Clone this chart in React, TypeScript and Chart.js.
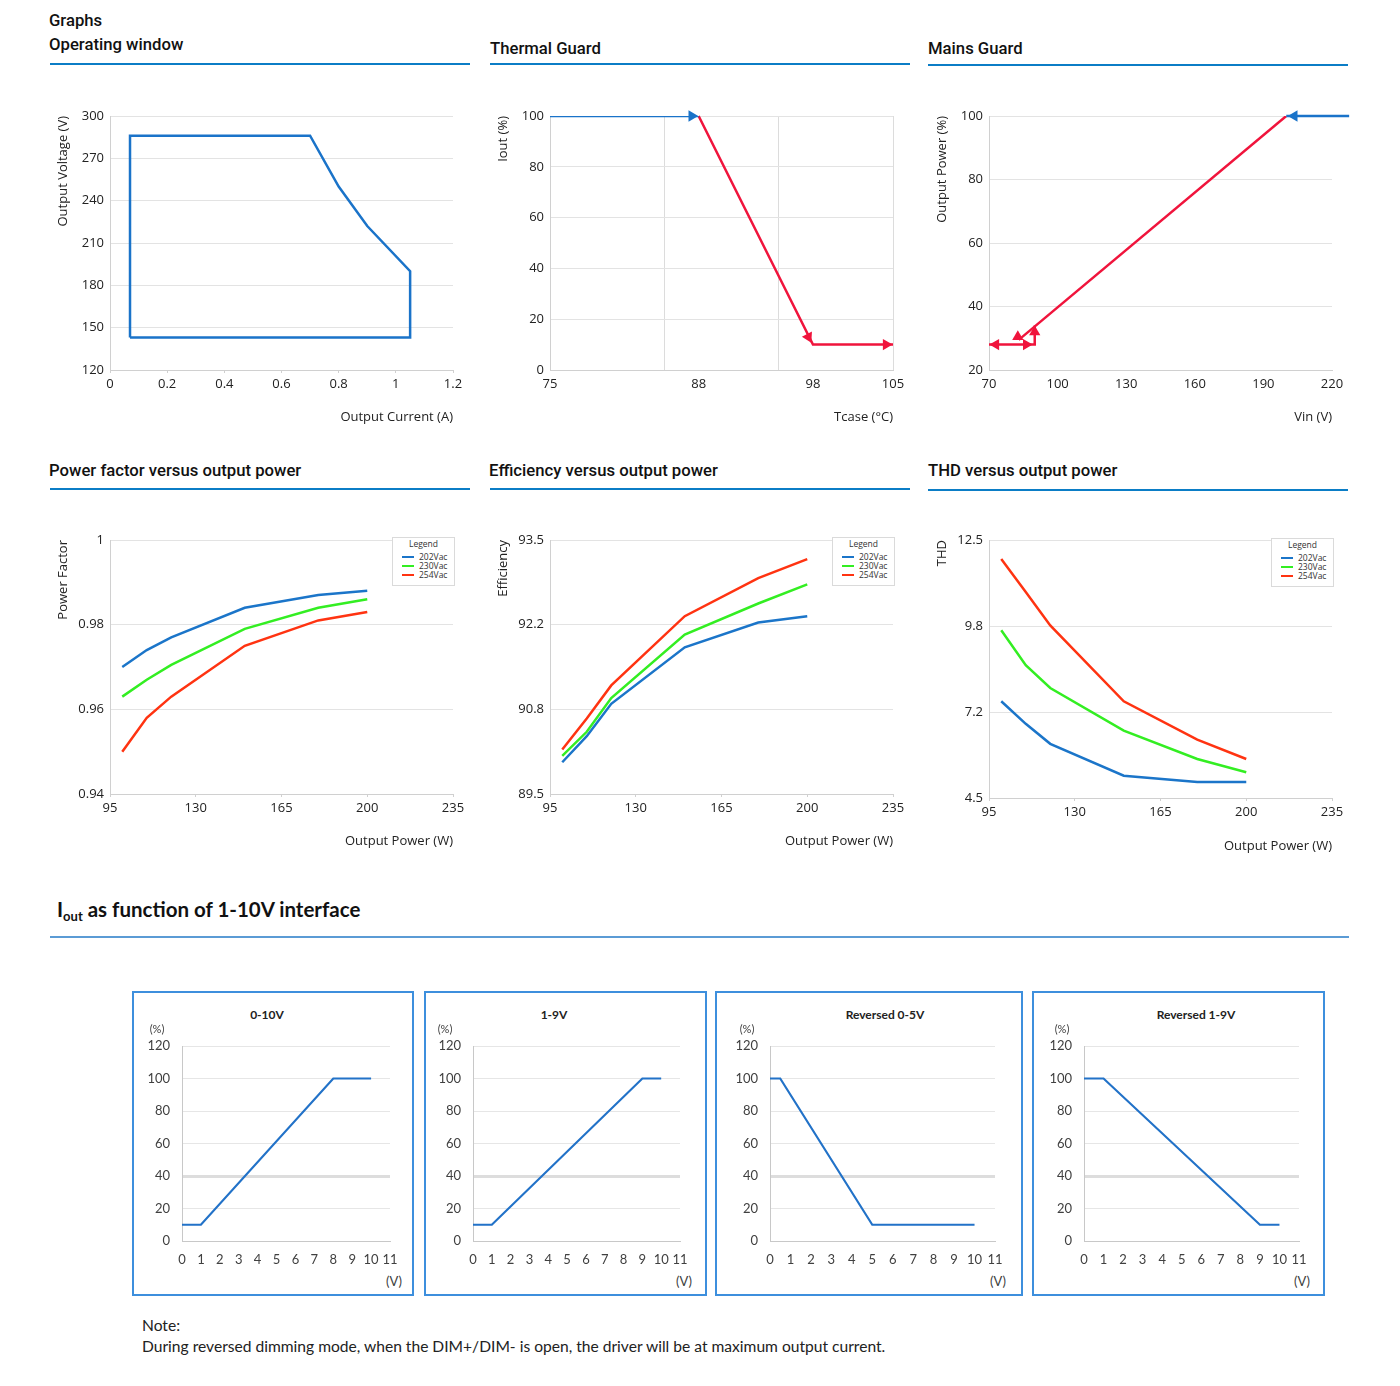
import React, { useEffect, useRef } from 'react';
import { Chart, registerables } from 'chart.js';

Chart.register(...registerables);

// ---------------- Data ----------------
// Operating window (closed polygon)
const OW_CURRENT = [0.07, 0.07, 0.7, 0.8, 0.9, 1.05, 1.05, 0.07];
const OW_VOLTAGE = [143, 286, 286, 250, 222, 190, 143, 143];

// Thermal guard
const TG_BLUE_T = [75, 88];
const TG_BLUE_I = [100, 100];
const TG_RED_T = [88, 98, 105];
const TG_RED_I = [100, 10, 10];
const TG_ARROW_T = [87.4, 97.6, 104.4];
const TG_ARROW_I = [100, 13, 10];
const TG_ARROW_ROT = [90, 153, 90];
const TG_X_TICKS = [75, 85, 88, 95, 98, 105];
const TG_X_LABELS = [75, 88, 98, 105];
const TG_X_GRID = [75, 85, 95, 105];

// Mains guard
const MG_BLUE_V = [227.5, 200];
const MG_BLUE_P = [100, 100];
const MG_DIAG_V = [200, 83];
const MG_DIAG_P = [100, 29.5];
const MG_STEP_V = [70, 90, 90];
const MG_STEP_P = [28, 28, 34];
const MG_ARROW_V = [203.5, 73, 86.3, 90, 82.6];
const MG_ARROW_P = [100, 28, 28, 32, 30.5];
const MG_ARROW_ROT = [270, 270, 90, 0, 0];

// Power factor / efficiency / THD vs output power
const SERIES_NAMES = ['202Vac', '230Vac', '254Vac'];
const LOAD_W = [100, 110, 120, 150, 180, 200];
const PF_202 = [0.97, 0.974, 0.977, 0.984, 0.987, 0.988];
const PF_230 = [0.963, 0.967, 0.9705, 0.979, 0.984, 0.986];
const PF_254 = [0.95, 0.958, 0.963, 0.975, 0.981, 0.983];
const EFF_202 = [90.0, 90.41, 90.92, 91.81, 92.2, 92.3];
const EFF_230 = [90.1, 90.48, 91.01, 92.01, 92.5, 92.8];
const EFF_254 = [90.2, 90.69, 91.21, 92.3, 92.9, 93.2];
const THD_202 = [7.5, 6.8, 6.18, 5.19, 5.0, 5.0];
const THD_230 = [9.7, 8.62, 7.91, 6.59, 5.71, 5.3];
const THD_254 = [11.91, 10.89, 9.85, 7.5, 6.31, 5.71];
const PF_Y_LABELS = ['0.94', '0.96', '0.98', '1'];
const EFF_Y_LABELS = ['89.5', '90.8', '92.2', '93.5'];
const THD_Y_LABELS = ['4.5', '7.2', '9.8', '12.5'];

// 1-10V interface
const DIM_0_10_V = [0, 1, 8, 10];
const DIM_0_10_I = [10, 10, 100, 100];
const DIM_1_9_V = [0, 1, 9, 10];
const DIM_1_9_I = [10, 10, 100, 100];
const REV_0_5_V = [0, 0.5, 5, 10];
const REV_0_5_I = [100, 100, 10, 10];
const REV_1_9_V = [0, 1, 9, 10];
const REV_1_9_I = [100, 100, 10, 10];
const DIM_TITLES = ['0-10V', '1-9V', 'Reversed 0-5V', 'Reversed 1-9V'];

// ---------------- Styles ----------------
const FONT = '"Open Sans", "Noto Sans", sans-serif';
const HEAD_FONT = 'Roboto, "Liberation Sans", Arial, sans-serif';
const CAL_FONT = 'Lato, "Open Sans", sans-serif';
const BLUE = '#1a73c9';
const RED = '#f0143c';
const S_BLUE = '#1b75c9';
const S_GREEN = '#33ee22';
const S_RED = '#ff3311';
const HEAD_LINE = '#0b7dc6';
const GRID = '#e3e3e3';
const AXIS = '#d0d0d0';

const pts = (xs: number[], ys: number[]) => xs.map((x, i) => ({ x, y: ys[i] }));
const fmt = (v: number) => String(parseFloat(Number(v).toFixed(3)));

type Plot = { l: number; t: number; r: number; b: number };

function PlotChart({ plot, yW, xH, padT, padR, config }: {
  plot: Plot; yW: number; xH: number; padT: number; padR: number; config: () => any;
}) {
  const ref = useRef<HTMLCanvasElement | null>(null);
  const w = Math.round(plot.r - plot.l + yW + padR);
  const h = Math.round(plot.b - plot.t + padT + xH);
  useEffect(() => {
    const cfg = config();
    const o = cfg.options;
    o.responsive = false;
    o.animation = false;
    o.devicePixelRatio = 1;
    o.layout = { padding: { top: padT, right: padR, left: 0, bottom: 0 } };
    o.scales.x.afterFit = (s: any) => { s.height = xH; };
    o.scales.y.afterFit = (s: any) => { s.width = yW; };
    o.plugins = { ...(o.plugins || {}), legend: { display: false }, tooltip: { enabled: false } };
    const chart = new Chart(ref.current as HTMLCanvasElement, cfg);
    return () => chart.destroy();
  }, []);
  return (
    <canvas
      ref={ref}
      width={w}
      height={h}
      style={{ position: 'absolute', left: plot.l - yW, top: plot.t - padT, width: w, height: h }}
    />
  );
}

const lineDs = (data: any[], color: string, width = 2.5, extra: any = {}) => ({
  data, borderColor: color, backgroundColor: color, borderWidth: width, showLine: true,
  pointRadius: 0, fill: false, tension: 0, borderJoinStyle: 'miter', ...extra,
});

const arrowDs = (data: any[], rot: number[], colors: string[]) => ({
  data, showLine: false, pointStyle: 'triangle', pointRadius: 6.5, pointRotation: rot,
  pointBackgroundColor: colors, pointBorderWidth: 0, pointBorderColor: colors, clip: false,
});

const tickFont = { family: FONT, size: 13 };
const titleFont = { family: FONT, size: 13 };

const xAxisBase = (min: number, max: number, step: number, title: string, extra: any = {}) => ({
  type: 'linear', min, max,
  ticks: { stepSize: step, font: tickFont, color: '#222', padding: 3, autoSkip: false, maxRotation: 0, callback: fmt },
  grid: { display: true, drawOnChartArea: false, drawTicks: true, tickLength: 3, color: AXIS },
  border: { display: true, color: AXIS },
  title: { display: true, text: title, align: 'end', font: titleFont, color: '#222', padding: 0 },
  ...extra,
});

const yAxisBase = (min: number, max: number, step: number, title: string, extra: any = {}) => ({
  type: 'linear', min, max,
  ticks: { stepSize: step, font: tickFont, color: '#222', padding: 6, callback: fmt },
  grid: { color: GRID, drawTicks: false },
  border: { display: true, color: AXIS },
  title: { display: true, text: title, align: 'end', font: titleFont, color: '#222', padding: 0 },
  ...extra,
});

const fixedTicks = (labels: string[]) => ({
  afterBuildTicks: (s: any) => {
    const n = labels.length;
    s.ticks = labels.map((_, i) => ({ value: s.min + (i * (s.max - s.min)) / (n - 1) }));
  },
});

function Text({ x, y, children, size = 16.7, family = HEAD_FONT, weight = 500, align = 'left', color = '#111' }: any) {
  const lh = Math.round(size * 1.3);
  const tx = align === 'center' ? 'translateX(-50%)' : align === 'right' ? 'translateX(-100%)' : 'none';
  return (
    <div style={{
      position: 'absolute', left: x, top: y - lh / 2, lineHeight: lh + 'px', fontSize: size,
      fontFamily: family, fontWeight: weight, color, whiteSpace: 'nowrap', transform: tx,
    }}>{children}</div>
  );
}

function HLine({ x1, x2, y, color = HEAD_LINE, h = 2 }: any) {
  return <div style={{ position: 'absolute', left: x1, top: y, width: x2 - x1, height: h, background: color }} />;
}

function LegendBox({ left, top }: { left: number; top: number }) {
  const colors = [S_BLUE, S_GREEN, S_RED];
  return (
    <div style={{
      position: 'absolute', left, top, width: 63, height: 49, border: '1px solid #dadada',
      boxSizing: 'border-box', background: '#fff', fontFamily: FONT, fontSize: 8.5, color: '#333',
    }}>
      <div style={{ position: 'absolute', left: 0, width: '100%', top: 0, lineHeight: '11px', textAlign: 'center' }}>Legend</div>
      {SERIES_NAMES.map((n, i) => (
        <div key={n} style={{ position: 'absolute', left: 9, top: 13 + i * 9, lineHeight: '10px', whiteSpace: 'nowrap' }}>
          <span style={{ display: 'inline-block', width: 12, height: 2, background: colors[i], verticalAlign: 'middle', marginRight: 5 }} />
          <span style={{ verticalAlign: 'middle' }}>{n}</span>
        </div>
      ))}
    </div>
  );
}

// ---------------- Chart configs ----------------
const owConfig = () => ({
  type: 'scatter',
  data: { datasets: [lineDs(pts(OW_CURRENT, OW_VOLTAGE), BLUE, 2.5)] },
  options: {
    scales: {
      x: xAxisBase(0, 1.2, 0.2, 'Output Current (A)'),
      y: yAxisBase(120, 300, 30, 'Output Voltage (V)'),
    },
  },
});

const tgConfig = () => ({
  type: 'scatter',
  data: {
    datasets: [
      lineDs(pts(TG_BLUE_T, TG_BLUE_I), BLUE, 2.5),
      lineDs(pts(TG_RED_T, TG_RED_I), RED, 2.5, { clip: false }),
      arrowDs(pts(TG_ARROW_T, TG_ARROW_I), TG_ARROW_ROT, [BLUE, RED, RED]),
    ],
  },
  options: {
    scales: {
      x: xAxisBase(75, 105, 10, 'Tcase (°C)', {
        afterBuildTicks: (s: any) => { s.ticks = TG_X_TICKS.map((v) => ({ value: v })); },
        ticks: {
          font: tickFont, color: '#222', padding: 6, autoSkip: false, maxRotation: 0,
          callback: (v: number) => (TG_X_LABELS.includes(v) ? String(v) : ''),
        },
        grid: {
          display: true, drawOnChartArea: true, drawTicks: false,
          color: (c: any) => (c.tick && TG_X_GRID.includes(c.tick.value) ? '#dcdcdc' : 'rgba(0,0,0,0)'),
        },
      }),
      y: yAxisBase(0, 100, 20, 'Iout (%)'),
    },
  },
});

const mgConfig = () => ({
  type: 'scatter',
  data: {
    datasets: [
      lineDs(pts(MG_BLUE_V, MG_BLUE_P), BLUE, 2.5, { clip: false }),
      lineDs(pts(MG_DIAG_V, MG_DIAG_P), RED, 2.5),
      lineDs(pts(MG_STEP_V, MG_STEP_P), RED, 2.5),
      arrowDs(pts(MG_ARROW_V, MG_ARROW_P), MG_ARROW_ROT, [BLUE, RED, RED, RED, RED]),
    ],
  },
  options: {
    scales: {
      x: xAxisBase(70, 220, 30, 'Vin (V)', {
        grid: { display: false, drawTicks: false },
        ticks: { stepSize: 30, font: tickFont, color: '#222', padding: 6, autoSkip: false, maxRotation: 0 },
      }),
      y: yAxisBase(20, 100, 20, 'Output Power (%)'),
    },
  },
});

const seriesConfig = (a: number[], b: number[], c: number[], yMin: number, yMax: number, yLabels: string[], yTitle: string) => () => ({
  type: 'scatter',
  data: {
    datasets: [
      lineDs(pts(LOAD_W, a), S_BLUE, 2.5, { label: SERIES_NAMES[0] }),
      lineDs(pts(LOAD_W, b), S_GREEN, 2.5, { label: SERIES_NAMES[1] }),
      lineDs(pts(LOAD_W, c), S_RED, 2.5, { label: SERIES_NAMES[2] }),
    ],
  },
  options: {
    scales: {
      x: xAxisBase(95, 235, 35, 'Output Power (W)'),
      y: yAxisBase(yMin, yMax, 1, yTitle, {
        ...fixedTicks(yLabels),
        ticks: { font: tickFont, color: '#222', padding: 6, callback: (_v: number, i: number) => yLabels[i] },
      }),
    },
  },
});

const dimConfig = (xs: number[], ys: number[]) => () => ({
  type: 'scatter',
  data: { datasets: [lineDs(pts(xs, ys), '#2272c8', 2.2)] },
  options: {
    scales: {
      x: {
        type: 'linear', min: 0, max: 11,
        ticks: { stepSize: 1, font: { family: CAL_FONT, size: 13 }, color: '#404040', padding: 11, autoSkip: false, maxRotation: 0 },
        grid: { display: false, drawTicks: false },
        border: { display: true, color: '#c8c8c8' },
      },
      y: {
        type: 'linear', min: 0, max: 120,
        ticks: { stepSize: 20, font: { family: CAL_FONT, size: 13 }, color: '#404040', padding: 12 },
        grid: {
          drawTicks: false,
          color: (c: any) => (c.tick && c.tick.value === 40 ? '#dddddd' : '#e6e6e6'),
          lineWidth: (c: any) => (c.tick && c.tick.value === 40 ? 3 : 1),
        },
        border: { display: true, color: '#c8c8c8' },
      },
    },
  },
});

const DIM_BOXES = [
  { box: [132, 991, 282, 305], plot: { l: 182, t: 1046, r: 390, b: 1241 }, title: 267, pct: 157, v: 394, cfg: dimConfig(DIM_0_10_V, DIM_0_10_I) },
  { box: [424, 991, 283, 305], plot: { l: 473, t: 1046, r: 680, b: 1241 }, title: 554, pct: 445, v: 684, cfg: dimConfig(DIM_1_9_V, DIM_1_9_I) },
  { box: [715, 991, 308, 305], plot: { l: 770, t: 1046, r: 995, b: 1241 }, title: 885, pct: 747, v: 998, cfg: dimConfig(REV_0_5_V, REV_0_5_I) },
  { box: [1032, 991, 293, 305], plot: { l: 1084, t: 1046, r: 1299, b: 1241 }, title: 1196, pct: 1062, v: 1302, cfg: dimConfig(REV_1_9_V, REV_1_9_I) },
];

export default function App() {
  return (
    <div style={{ position: 'absolute', left: 0, top: 0, width: 1400, height: 1386, background: '#fff', overflow: 'hidden' }}>
      {/* Top row headings */}
      <Text x={49} y={21}>Graphs</Text>
      <Text x={49} y={45}>Operating window</Text>
      <HLine x1={50} x2={470} y={63} />
      <Text x={490} y={49}>Thermal Guard</Text>
      <HLine x1={490} x2={910} y={63} />
      <Text x={928} y={49}>Mains Guard</Text>
      <HLine x1={928} x2={1348} y={64} />

      <PlotChart plot={{ l: 110, t: 116, r: 453, b: 370 }} yW={55} xH={55} padT={16} padR={18} config={owConfig} />
      <PlotChart plot={{ l: 550, t: 116, r: 893, b: 370 }} yW={55} xH={55} padT={16} padR={20} config={tgConfig} />
      <PlotChart plot={{ l: 989, t: 116, r: 1332, b: 370 }} yW={55} xH={55} padT={16} padR={22} config={mgConfig} />

      {/* Middle row headings */}
      <Text x={49} y={471}>Power factor versus output power</Text>
      <HLine x1={50} x2={470} y={488} />
      <Text x={489} y={471}>Efficiency versus output power</Text>
      <HLine x1={490} x2={910} y={488} />
      <Text x={928} y={471}>THD versus output power</Text>
      <HLine x1={928} x2={1348} y={489} />

      <PlotChart plot={{ l: 110, t: 540, r: 453, b: 794 }} yW={55} xH={55} padT={16} padR={18}
        config={seriesConfig(PF_202, PF_230, PF_254, 0.94, 1, PF_Y_LABELS, 'Power Factor')} />
      <PlotChart plot={{ l: 550, t: 540, r: 893, b: 794 }} yW={55} xH={55} padT={16} padR={18}
        config={seriesConfig(EFF_202, EFF_230, EFF_254, 89.5, 93.5, EFF_Y_LABELS, 'Efficiency')} />
      <PlotChart plot={{ l: 989, t: 540, r: 1332, b: 798 }} yW={55} xH={56} padT={16} padR={18}
        config={seriesConfig(THD_202, THD_230, THD_254, 4.5, 12.5, THD_Y_LABELS, 'THD')} />
      <LegendBox left={392} top={537} />
      <LegendBox left={832} top={537} />
      <LegendBox left={1271} top={538} />

      {/* 1-10V interface */}
      <Text x={57} y={909} size={20.5} family={CAL_FONT} weight={700}>
        I<span style={{ fontSize: 13, position: 'relative', top: 4 }}>out</span> as function of 1-10V interface
      </Text>
      <HLine x1={50} x2={1349} y={936} color="#5b9bd5" h={2} />

      {DIM_BOXES.map((d, i) => (
        <React.Fragment key={i}>
          <div style={{
            position: 'absolute', left: d.box[0], top: d.box[1], width: d.box[2], height: d.box[3],
            border: '2px solid #3d8fdd', boxSizing: 'border-box',
          }} />
          <PlotChart plot={d.plot} yW={40} xH={30} padT={22} padR={21} config={d.cfg} />
          <Text x={d.title} y={1015} size={12} family={CAL_FONT} weight={700} align="center" color="#222">{DIM_TITLES[i]}</Text>
          <Text x={d.pct} y={1029} size={11} family={CAL_FONT} weight={400} align="center" color="#404040">(%)</Text>
          <Text x={d.v} y={1281} size={13} family={CAL_FONT} weight={400} align="center" color="#404040">(V)</Text>
        </React.Fragment>
      ))}

      <Text x={142} y={1325} size={15.6} family={CAL_FONT} weight={400} color="#222">Note:</Text>
      <Text x={142} y={1346} size={15.6} family={CAL_FONT} weight={400} color="#222">
        During reversed dimming mode, when the DIM+/DIM- is open, the driver will be at maximum output current.
      </Text>
    </div>
  );
}
